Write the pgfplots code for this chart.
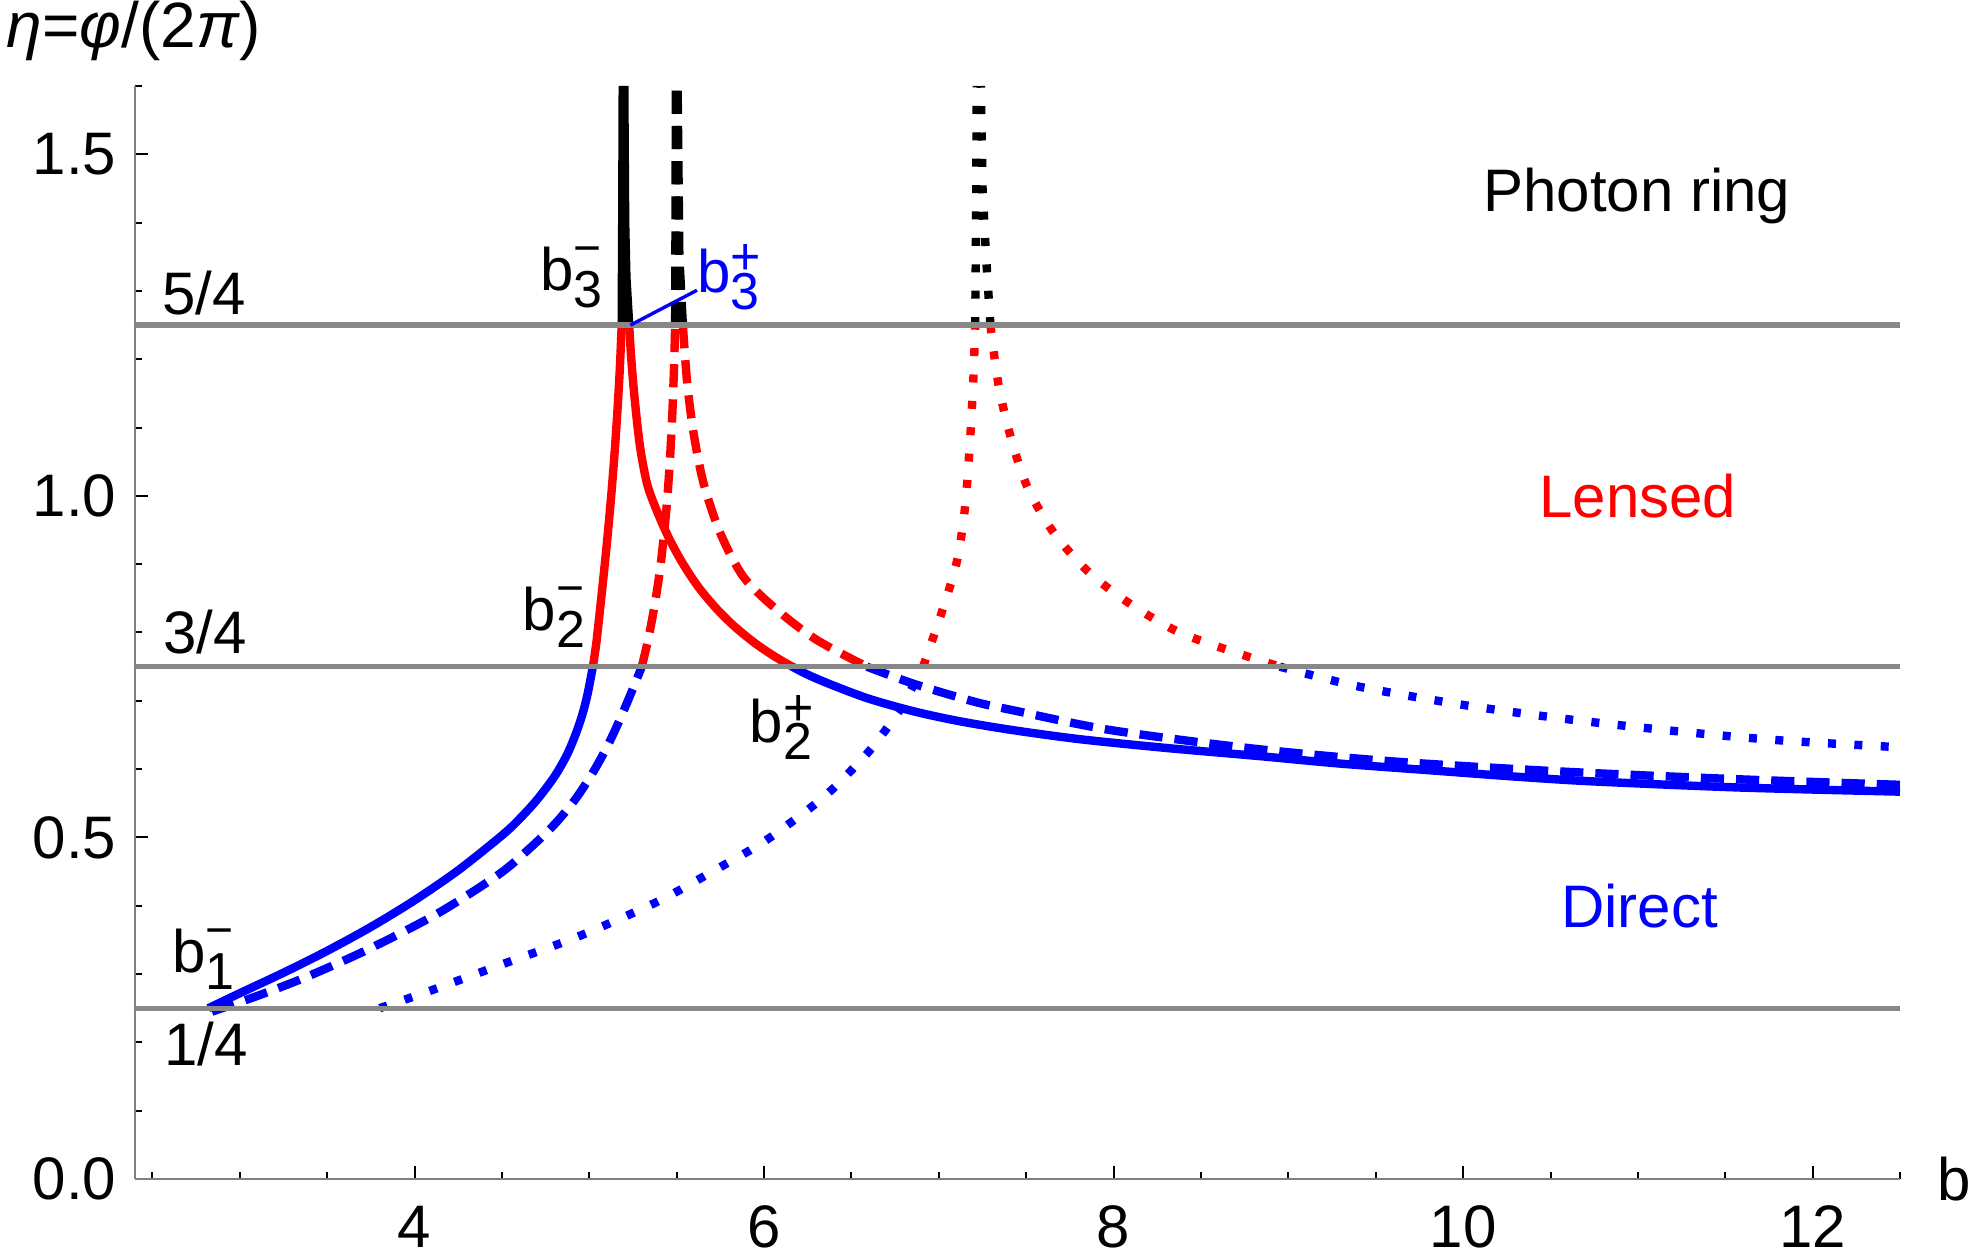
\documentclass[border=0pt]{standalone}
\usepackage{fontspec}
\setmainfont{Liberation Sans}
\usepackage{pgfplots}
\pgfplotsset{compat=1.18}
\definecolor{gl}{RGB}{136,136,136}
\definecolor{axg}{RGB}{128,128,128}
\newcommand\bm[1]{b\makebox[0pt][l]{\raisebox{6.5pt}{\fontsize{12}{12}\selectfont −}}\raisebox{-4.3pt}{\fontsize{13}{13}\selectfont #1}}
\newcommand\bp[1]{b\makebox[0pt][l]{\raisebox{4.3pt}{\fontsize{13}{13}\selectfont +}}\raisebox{-4.3pt}{\fontsize{13}{13}\selectfont #1}}
\begin{document}
\begin{tikzpicture}
\begin{axis}[
  scale only axis, width=441.25pt, height=273.25pt,
  xmin=2.4, xmax=12.5, ymin=0, ymax=1.6,
  axis x line*=bottom, axis y line*=left,
  axis line style={axg, line width=0.5pt},
  tick align=inside,
  xtick={4,6,8,10,12},
  minor xtick={2.5,3,3.5,4.5,5,5.5,6.5,7,7.5,8.5,9,9.5,10.5,11,11.5,12.5},
  ytick={0,0.5,1,1.5},
  minor ytick={0.1,0.2,0.3,0.4,0.6,0.7,0.8,0.9,1.1,1.2,1.3,1.4,1.6},
  major tick length=3.25pt, minor tick length=1.65pt,
  every tick/.style={black, line width=0.5pt},
  /pgf/number format/assume math mode=true,
  xticklabel style={font=\fontsize{15}{18}\selectfont, inner sep=0pt, yshift=-6.5pt},
  yticklabel style={font=\fontsize{15}{18}\selectfont, inner sep=0pt, xshift=-4.5pt,
     /pgf/number format/.cd, fixed, fixed zerofill, precision=1},
  clip=false,
  every axis plot/.append style={no markers, line width=2.1pt, line join=round},
]
\coordinate (O) at (rel axis cs:0,0);
% ---------- solid (direct / lensed / ring)
\addplot[blue, smooth, tension=0.5] coordinates {(2.82,0.25)(3.0,0.272)(3.25,0.302)(3.5,0.334)(3.75,0.369)(4.0,0.408)(4.25,0.452)(4.5,0.503)(4.6,0.527)(4.7,0.555)(4.8,0.589)(4.87,0.620)(4.92,0.650)(4.96,0.680)(4.99,0.710)(5.02,0.75)};
\addplot[red, smooth, tension=0.5] coordinates {(5.02,0.75)(5.04,0.785)(5.07,0.855)(5.1,0.93)(5.125,1.0)(5.145,1.065)(5.162,1.13)(5.175,1.19)(5.185,1.25)};
\addplot[black] coordinates {(5.185,1.25)(5.188,1.4)(5.191,1.6)};
\addplot[black] coordinates {(5.228,1.25)(5.212,1.32)(5.205,1.4)(5.2,1.6)};
\addplot[red, smooth, tension=0.5] coordinates {(5.228,1.25)(5.24,1.20)(5.26,1.14)(5.29,1.072)(5.33,1.018)(5.38,0.982)(5.45,0.941)(5.53,0.903)(5.62,0.868)(5.72,0.837)(5.83,0.809)(5.95,0.784)(6.06,0.765)(6.16,0.750)};
\addplot[blue, smooth, tension=0.5] coordinates {(6.16,0.750)(6.26,0.737)(6.4,0.722)(6.6,0.703)(6.85,0.685)(7.1,0.671)(7.4,0.658)(7.8,0.644)(8.3,0.631)(8.836,0.619)(9.3,0.608)(9.826,0.598)(10.3,0.589)(10.745,0.582)(11.59,0.573)(12.5,0.567)};
% ---------- dashed
\addplot[blue, dash pattern=on 5.8pt off 3pt, smooth, tension=0.5] coordinates {(2.84,0.245)(3.1,0.268)(3.383,0.296)(3.733,0.336)(4.127,0.388)(4.477,0.445)(4.65,0.482)(4.8,0.519)(4.92,0.556)(5.02,0.595)(5.1,0.632)(5.17,0.670)(5.24,0.712)(5.30,0.75)};
\addplot[red, dash pattern=on 5.8pt off 3pt, smooth, tension=0.5] coordinates {(5.30,0.75)(5.34,0.794)(5.38,0.850)(5.41,0.904)(5.44,0.978)(5.46,1.048)(5.475,1.122)(5.485,1.192)(5.491,1.25)};
\addplot[black, dash pattern=on 5.8pt off 3pt] coordinates {(5.491,1.25)(5.493,1.4)(5.495,1.6)};
\addplot[black, dash pattern=on 5.8pt off 3pt] coordinates {(5.535,1.25)(5.515,1.35)(5.505,1.6)};
\addplot[red, dash pattern=on 5.8pt off 3pt, smooth, tension=0.5] coordinates {(5.535,1.25)(5.56,1.165)(5.597,1.091)(5.654,1.018)(5.75,0.945)(5.883,0.881)(6.074,0.833)(6.302,0.789)(6.588,0.75)};
\addplot[blue, dash pattern=on 5.8pt off 3pt, smooth, tension=0.5] coordinates {(6.588,0.75)(6.855,0.725)(7.198,0.699)(7.427,0.686)(7.987,0.657)(8.80,0.630)(9.613,0.611)(10.60,0.596)(11.59,0.585)(12.5,0.577)};
% ---------- dotted
\addplot[blue, dash pattern=on 2pt off 4.6pt, smooth, tension=0.5] coordinates {(3.80,0.25)(4.083,0.275)(4.52,0.316)(4.936,0.355)(5.374,0.404)(5.635,0.440)(5.787,0.462)(5.911,0.480)(6.035,0.500)(6.159,0.523)(6.283,0.547)(6.397,0.572)(6.502,0.599)(6.607,0.628)(6.703,0.660)(6.788,0.691)(6.855,0.723)(6.91,0.75)};
\addplot[red, dash pattern=on 2pt off 4.6pt, smooth, tension=0.5] coordinates {(6.91,0.75)(7.017,0.830)(7.103,0.904)(7.150,0.984)(7.179,1.083)(7.198,1.175)(7.208,1.25)};
\addplot[black, dash pattern=on 2pt off 4.6pt] coordinates {(7.208,1.25)(7.213,1.4)(7.217,1.6)};
\addplot[black, dash pattern=on 2pt off 4.6pt] coordinates {(7.295,1.25)(7.27,1.35)(7.25,1.45)(7.24,1.6)};
\addplot[red, dash pattern=on 2pt off 4.6pt, smooth, tension=0.5] coordinates {(7.295,1.25)(7.341,1.163)(7.408,1.089)(7.503,1.015)(7.655,0.947)(7.855,0.889)(8.094,0.842)(8.361,0.802)(8.646,0.775)(8.951,0.75)};
\addplot[blue, dash pattern=on 2pt off 4.6pt, smooth, tension=0.5] coordinates {(8.951,0.75)(9.40,0.721)(10.0,0.694)(10.60,0.673)(11.24,0.655)(11.82,0.642)(12.5,0.632)};
% ---------- horizontal lines
\addplot[gl, line width=1.3pt] coordinates {(2.4,0.25)(12.5,0.25)};
\addplot[gl, line width=1.3pt] coordinates {(2.4,0.75)(12.5,0.75)};
\addplot[gl, line width=1.3pt] coordinates {(2.4,1.25)(12.5,1.25)};
% pointer
\addplot[blue, line width=0.85pt] coordinates {(5.235,1.25)(5.616,1.301)};
% ---------- labels
\begin{scope}[every node/.style={inner sep=0pt, font=\fontsize{15}{18}\selectfont}]
\node at (axis cs:2.796,1.297) {5/4};
\node at (axis cs:2.799,0.801) {3/4};
\node at (axis cs:2.808,0.198) {1/4};
\node at (axis cs:4.898,1.32) {\bm{3}};
\node[text=blue] at (axis cs:5.795,1.32) {\bp{3}};
\node at (axis cs:4.798,0.822) {\bm{2}};
\node at (axis cs:6.096,0.661) {\bp{2}};
\node at (axis cs:2.79,0.322) {\bm{1}};
\node at (axis cs:10.995,1.4386) {Photon ring};
\node[text=red] at (axis cs:11.0,0.999) {Lensed};
\node[text=blue] at (axis cs:11.01,0.40) {Direct};
\node[anchor=west] at (axis cs:12.708,0) {b};
\node[anchor=west, font=\fontsize{16}{19}\selectfont] at (axis cs:1.6615,1.68) {\textit{η}=\textit{φ}/(2\textit{π})};
\end{scope}
\end{axis}
\pgfresetboundingbox
\path[use as bounding box] ([shift={(-33.75pt,-18.75pt)}]O) rectangle ([shift={(459.5pt,294.75pt)}]O);
\end{tikzpicture}
\end{document}
